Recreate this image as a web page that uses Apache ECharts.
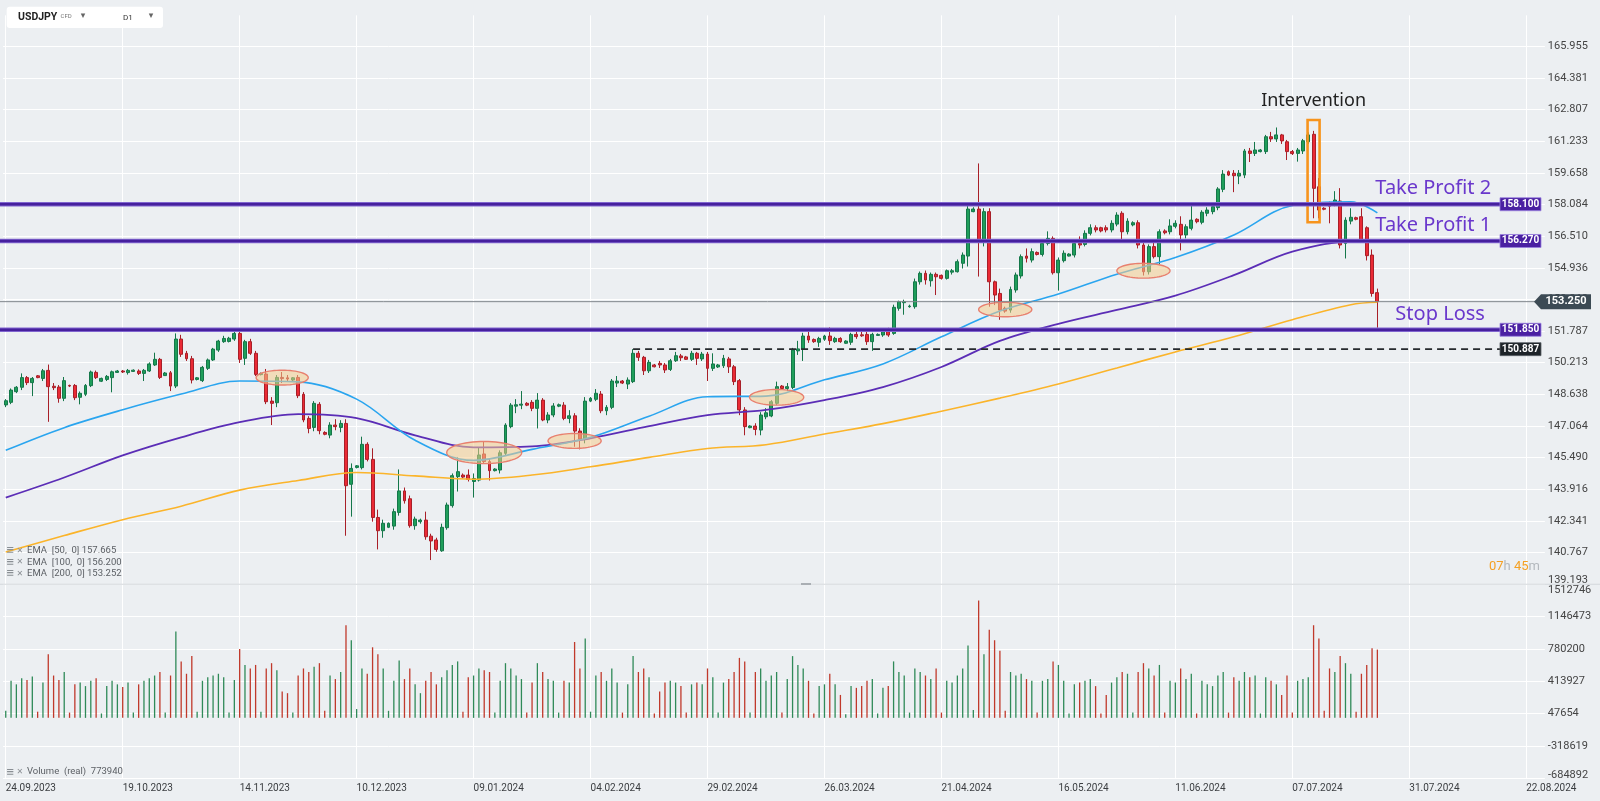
<!DOCTYPE html>
<html><head><meta charset="utf-8">
<script src="https://cdn.jsdelivr.net/npm/echarts@6/dist/echarts.min.js"></script>
<style>html,body{margin:0;padding:0;background:#eceff2;overflow:hidden}#c{width:1600px;height:801px}</style>
</head><body><div id="c"></div>
<script>
// ---------------- DATA ----------------
const dateLabels = ['24.09.2023','19.10.2023','14.11.2023','10.12.2023','09.01.2024','04.02.2024','29.02.2024','26.03.2024','21.04.2024','16.05.2024','11.06.2024','07.07.2024','31.07.2024','22.08.2024'];
const priceTicks = ['139.193','140.767','142.341','143.916','145.490','147.064','148.638','150.213','151.787','153.362','154.936','156.510','158.084','159.658','161.233','162.807','164.381','165.955'];
const volumeTicks = ['-684892','-318619','47654','413927','780200','1146473','1512746'];

// daily candles: [open, close, low, high]
const candles = [
[148.11,148.32,148.00,148.40],[148.24,148.85,148.15,148.93],[148.77,148.99,148.70,149.05],[148.99,149.47,148.85,149.68],[149.47,149.22,149.10,149.55],[149.22,149.43,148.55,149.50],
[149.56,149.47,149.44,149.60],[149.43,149.81,149.30,149.90],[149.83,149.02,147.27,150.12],[149.04,148.97,148.85,149.20],[149.00,148.44,148.22,149.10],[148.44,149.32,148.30,149.50],
[149.08,149.05,149.00,149.12],[149.08,148.47,148.35,149.15],[148.49,148.69,148.14,148.78],[148.64,149.08,148.55,149.15],[149.07,149.75,149.00,149.82],[149.73,149.47,149.40,149.82],
[149.29,149.43,149.25,149.47],[149.38,149.53,149.30,149.60],[149.47,149.76,148.74,149.82],[149.73,149.80,149.70,149.85],[149.80,149.75,149.70,149.85],[149.72,149.83,149.62,149.90],
[149.78,149.84,149.75,149.88],[149.80,149.68,149.60,149.88],[149.68,149.83,149.30,149.90],[149.80,150.15,149.75,150.23],[150.10,150.38,150.05,150.71],[150.38,149.48,149.40,150.45],
[149.57,149.70,149.55,149.75],[149.71,149.05,148.80,149.80],[149.05,151.39,148.95,151.67],[151.39,150.63,150.50,151.60],[150.68,150.41,150.30,150.80],[150.41,149.35,149.18,150.55],
[149.38,149.46,149.33,149.50],[149.32,149.98,149.25,150.05],[149.93,150.35,149.85,150.42],[150.35,150.89,150.30,150.95],[150.84,151.29,150.75,151.35],[151.26,151.42,151.20,151.55],
[151.27,151.43,151.22,151.50],[151.39,151.67,151.30,151.80],[151.67,150.38,150.20,151.90],[150.43,151.26,150.10,151.35],[151.26,150.68,150.60,151.40],[150.68,149.63,149.55,150.80],
[149.62,149.68,149.58,149.72],[149.65,148.27,148.15,149.90],[148.30,148.19,147.11,148.50],[148.22,149.48,148.00,149.60],[149.48,149.42,149.20,149.75],[149.46,149.40,149.30,149.60],
[149.35,149.46,149.30,149.50],[149.48,148.57,148.45,149.60],[148.64,147.36,147.25,148.75],[147.44,146.94,146.70,147.55],[146.99,148.19,146.80,148.30],[148.14,146.83,146.65,148.25],
[146.74,146.65,146.60,146.80],[146.61,147.11,146.45,147.25],[147.11,147.03,146.85,147.40],[146.99,147.19,146.75,147.35],[147.19,144.09,141.60,147.40],[144.16,144.95,142.55,145.20],
[145.00,145.08,144.95,145.12],[144.99,146.15,144.90,146.53],[146.15,145.40,145.30,146.25],[145.40,142.51,142.30,145.95],[142.51,141.85,140.92,142.90],[141.85,142.22,141.50,142.40],
[142.02,142.22,141.98,142.26],[142.08,142.80,141.90,142.95],[142.76,143.83,142.60,144.90],[143.83,143.34,143.20,144.00],[143.44,142.10,142.00,143.60],[142.10,142.43,141.90,142.55],
[142.30,142.38,142.20,142.45],[142.38,141.55,141.40,142.80],[141.58,141.34,140.39,141.70],[141.39,140.92,140.80,141.50],[140.85,142.02,140.80,142.20],[142.00,143.13,141.90,143.25],
[143.10,144.59,143.00,144.70],[144.54,144.79,143.80,145.50],[144.62,144.52,144.45,144.70],[144.62,144.40,144.30,144.90],[144.30,144.45,143.50,144.70],[144.37,145.62,144.30,146.00],
[145.67,145.29,145.20,146.30],[145.29,144.84,144.35,145.45],[144.84,144.92,144.80,144.96],[144.87,145.73,144.70,145.85],[145.70,147.11,145.60,147.20],[147.03,148.10,146.95,148.20],
[148.05,148.12,147.70,148.40],[148.10,148.15,147.90,148.80],[148.19,148.10,148.05,148.25],[148.24,147.94,147.80,148.35],[147.94,148.35,146.94,148.70],[148.35,147.36,147.30,148.45],
[147.36,147.61,147.20,147.75],[147.61,148.06,147.50,148.20],[148.05,148.12,148.00,148.18],[148.10,147.44,147.35,148.25],[147.44,147.57,147.20,147.85],[147.57,146.81,146.03,147.70],
[146.81,146.41,145.90,146.95],[146.41,148.30,146.20,148.50],[148.30,148.44,148.25,148.50],[148.39,148.69,148.30,148.90],[148.65,147.82,147.70,148.80],[147.82,147.99,147.60,148.10],
[147.99,149.30,147.90,149.40],[149.20,149.30,149.00,149.55],[149.30,149.20,149.15,149.35],[149.15,149.35,148.90,149.48],[149.27,150.68,149.20,150.887],[150.68,150.48,150.30,150.80],
[150.48,149.81,149.60,150.55],[149.81,150.23,149.70,150.35],[150.10,150.01,149.98,150.15],[150.18,150.10,149.95,150.30],[150.10,149.85,149.70,150.20],[149.88,150.31,149.80,150.40],
[150.31,150.56,150.25,150.75],[150.55,150.46,150.30,150.65],[150.50,150.38,150.35,150.55],[150.38,150.68,150.30,150.80],[150.68,150.43,150.10,150.75],[150.40,150.64,150.30,150.75],
[150.64,149.93,149.30,150.75],[149.93,150.15,149.80,150.68],[150.00,150.10,149.95,150.15],[150.06,150.43,149.95,150.60],[150.40,150.01,149.70,150.50],[150.01,149.27,149.10,150.10],
[149.32,147.86,147.60,149.40],[147.86,147.03,146.60,148.00],[146.98,147.06,146.95,147.10],[147.06,146.89,146.60,147.20],[146.86,147.61,146.60,147.75],[147.52,147.72,147.40,147.95],
[147.56,148.27,147.50,148.35],[148.19,149.02,148.10,149.27],[149.05,148.93,148.88,149.10],[148.93,149.02,148.80,149.20],[148.98,150.84,148.90,150.95],[150.80,150.90,150.60,151.30],
[150.89,151.54,150.30,151.70],[151.54,151.34,151.20,151.85],[151.37,151.26,151.20,151.42],[151.23,151.42,151.00,151.50],[151.38,151.54,151.30,151.60],[151.54,151.31,151.10,151.97],
[151.26,151.42,151.20,151.50],[151.42,151.26,151.20,151.48],[151.18,151.29,151.15,151.33],[151.23,151.62,151.10,151.70],[151.62,151.51,151.40,151.75],[151.60,151.55,151.50,151.80],
[151.62,151.26,151.10,151.80],[151.26,151.62,150.80,151.70],[151.57,151.62,151.55,151.67],[151.59,151.76,151.50,151.90],[151.76,151.59,151.50,151.95],[151.67,152.97,151.60,153.10],
[152.92,153.25,152.80,153.30],[153.20,153.25,152.60,153.35],[153.00,153.03,152.95,153.10],[153.00,154.24,152.90,154.40],[154.24,154.66,154.10,154.75],[154.66,154.33,154.10,154.80],
[154.29,154.61,154.00,154.70],[154.61,154.49,153.58,154.70],[154.56,154.41,154.35,154.60],[154.41,154.79,154.35,154.85],[154.72,154.79,154.60,154.88],[154.74,155.24,154.70,155.35],
[155.16,155.57,154.90,155.70],[155.52,157.86,155.00,158.05],[157.73,157.86,157.70,157.95],[157.86,156.32,154.50,160.13],[156.24,157.73,156.00,157.90],[157.73,154.24,153.00,157.90],
[154.24,153.58,153.08,154.30],[153.66,152.83,152.35,153.90],[152.92,152.78,152.70,153.00],[152.83,153.86,152.70,154.00],[153.83,154.58,153.70,154.70],[154.53,155.49,154.40,155.60],
[155.52,155.41,155.20,155.90],[155.32,155.74,155.20,155.90],[155.70,155.60,155.55,155.75],[155.60,156.15,155.50,156.25],[156.15,156.40,156.05,156.75],[156.40,154.69,154.60,156.50],
[154.69,155.32,153.80,155.45],[155.29,155.66,155.20,155.80],[155.52,155.62,155.50,155.66],[155.57,156.15,155.45,156.25],[156.15,156.07,155.90,156.50],[156.10,156.65,156.00,156.80],
[156.65,156.93,156.55,157.10],[156.93,156.82,156.70,157.05],[156.93,156.77,156.70,156.98],[156.93,156.82,156.70,157.05],[156.82,157.15,156.70,157.30],[157.11,157.56,157.00,157.70],
[157.65,156.73,156.30,157.75],[156.73,157.26,156.60,157.40],[157.07,157.18,157.00,157.25],[157.18,156.07,155.90,157.30],[156.07,154.74,154.55,156.20],[154.74,155.99,154.60,156.10],
[155.99,155.49,155.40,156.20],[155.49,156.73,155.10,156.85],[156.77,156.68,156.60,156.85],[156.73,157.02,156.60,157.35],[157.00,157.15,156.90,157.30],[157.10,156.57,155.80,157.50],
[156.57,156.98,156.40,157.10],[156.90,157.31,156.80,158.20],[157.35,157.23,157.15,157.40],[157.20,157.70,157.10,157.80],[157.65,157.81,157.50,157.95],[157.73,157.98,157.60,158.10],
[157.93,158.86,157.80,158.95],[158.84,159.60,158.70,159.80],[159.72,159.55,159.50,159.78],[159.64,159.52,158.70,159.80],[159.50,159.64,159.10,159.80],[159.55,160.75,159.40,160.85],
[160.75,160.63,160.20,160.90],[160.63,160.80,160.50,161.20],[160.72,160.80,160.68,160.85],[160.72,161.46,160.60,161.55],[161.46,161.35,161.20,161.70],[161.35,161.55,161.20,161.92],
[161.55,161.25,161.10,161.60],[161.21,160.72,160.30,161.30],[160.72,160.62,160.55,160.80],[160.63,160.80,160.22,160.90],[160.75,161.26,160.60,161.35],[161.21,161.55,161.10,161.68],
[161.58,158.89,157.40,161.75],[158.97,157.81,157.40,159.40],[157.90,157.85,157.80,157.95],[158.10,158.00,157.15,158.23],[158.14,158.31,158.00,158.75],[158.26,156.07,155.90,158.90],
[156.15,157.31,155.40,157.45],[157.26,157.45,157.10,157.90],[157.43,157.35,157.30,157.48],[157.48,156.32,156.20,157.90],[156.93,155.54,155.30,157.00],[155.57,153.66,153.50,155.85],
[153.70,153.25,151.95,153.90]
];

// daily volume (real)
const volumes = [
80000,420000,380000,450000,430000,470000, 70000,400000,720000,480000,430000,520000, 60000,380000,400000,360000,420000,450000,
50000,360000,420000,380000,350000,400000, 60000,380000,420000,450000,480000,520000, 60000,480000,980000,640000,500000,700000,
70000,420000,460000,480000,500000,460000, 60000,430000,780000,600000,560000,600000, 70000,560000,620000,540000,300000,280000,
60000,480000,560000,520000,580000,620000, 80000,480000,440000,520000,1050000,880000, 100000,560000,500000,800000,720000,560000,
80000,420000,650000,440000,560000,380000, 280000,420000,520000,380000, 460000,540000,600000,640000,
70000,460000,480000,560000,540000,520000, 60000,420000,620000,560000,480000,440000, 60000,400000,620000,520000,440000,420000,
60000,420000,400000,860000,560000,900000, 70000,480000,520000,420000,560000,400000, 60000,380000,700000,520000,560000,460000,
50000,300000,400000,420000,400000,360000, 60000,380000,400000,380000,560000,460000, 60000,400000,440000,520000,680000,640000,
60000,520000,560000,420000,480000,520000, 60000,440000,700000,600000,560000,420000, 50000,360000,380000,500000,380000,260000,
40000,360000,340000,360000,420000,440000, 50000,340000,360000,640000,520000,480000, 60000,560000,520000,480000,440000,560000,
60000,420000,400000,480000,560000,820000, 90000,1330000,720000,1000000,880000,760000, 80000,520000,480000,500000,440000,420000,
60000,420000,440000,640000,600000,420000, 50000,380000,400000,420000,440000,360000, 50000,260000,400000,460000,520000,500000,
60000,520000,620000,560000,480000,600000, 60000,420000,400000,560000,440000,500000, 50000,420000,380000,360000,480000,520000,
60000,460000,420000,520000,460000,480000, 50000,460000,420000,380000,260000,480000, 60000,420000,440000,460000,1050000,900000,
80000,560000,520000,700000,620000,500000, 70000,500000,600000,790000,773940
];

// EMA readings at bar indices
const emaIndex = [0,11,22,33,44,55,66,77,88,99,110,121,132,143,154,165,176,187,198,209,220,231,242,253,258];
const ema50  = [145.85,146.98,147.87,148.65,149.30,149.26,148.40,146.35,145.35,145.90,146.50,147.55,148.52,148.55,149.36,150.15,151.50,152.78,153.63,154.62,155.45,156.57,158.04,158.22,157.67];
const ema100 = [143.50,144.50,145.60,146.50,147.25,147.65,147.45,146.60,146.00,146.05,146.45,147.05,147.60,147.86,148.35,149.00,150.00,151.30,152.15,152.84,153.55,154.57,155.74,156.24,156.22];
const ema200 = [140.79,141.61,142.40,143.07,143.87,144.35,144.75,144.58,144.41,144.62,145.03,145.50,145.94,146.13,146.66,147.18,147.80,148.45,149.15,149.95,150.75,151.50,152.35,153.10,153.22];

// levels and annotations
const takeProfit2 = 158.100, takeProfit1 = 156.270, stopLoss = 151.850;
const lastPrice = 153.250, resistance = 150.887, resistanceFromBar = 118;
const intervention = {bar: 246, high: 162.29, low: 157.20, widthBars: 2.26, labelPrice: 163.24};
// highlighted zones: [bar, price, half-width in bars, half-height in price]
const zones = [[52,149.47,4.9,0.37],[90,145.74,7.05,0.55],[107,146.32,5.0,0.37],[145,148.49,5.1,0.39],[188,152.86,5.0,0.36],[214,154.79,5.0,0.37]];
const legendValues = {ema50:'157.665', ema100:'156.200', ema200:'153.252', volume:'773940'};
const countdown = ['07','45'];
const SLOT_COUNT = 290;

// ---------------- CHART ----------------
const slots = Array.from({length: SLOT_COUNT}, (_, i) => String(i));
const bull = '#1f9e5a', bear = '#ea2a35';
const volData = volumes.map((v, i) => ({value: v, itemStyle: {color: candles[i][1] >= candles[i][0] ? '#2f8a58' : '#c0392b'}}));
const gridMarks = dateLabels.map((_, k) => ({xAxis: String(k * 22)}));
const FONT = 'Roboto';
const GL = 3.08, GR = 55.16;
const PRICE_STEP = 1.574235, PRICE_MIN = 139.193, PRICE_TOP = 167.5;
// price split lines: every tick visible, the pane's top edge hidden
const priceSplitColors = priceTicks.map(() => '#ffffff').concat(['rgba(0,0,0,0)', 'rgba(0,0,0,0)']);

const chart = echarts.init(document.getElementById('c'), null, {renderer: 'canvas', width: 1600, height: 801});
// grid 0 pixel frame: 165.955 sits at y=46.4 and 139.193 at y=584.1
const pxPerYen = (584.1 - 46.4) / (165.955 - PRICE_MIN);
const priceTopPx = 584.1 - (PRICE_TOP - PRICE_MIN) * pxPerYen;
const option = {
  animation: false,
  backgroundColor: '#eceff2',
  grid: [
    {left: GL, right: GR, top: priceTopPx, bottom: 801 - 584.1, containLabel: false, outerBoundsMode: 'none'},
    {left: GL, right: GR, top: 584.4, bottom: 22.7, containLabel: false, outerBoundsMode: 'none'}
  ],
  xAxis: [
    {type: 'category', gridIndex: 0, data: slots, boundaryGap: true, axisLine: {show: false}, axisTick: {show: false}, axisLabel: {show: false}, splitLine: {show: false}},
    {type: 'category', gridIndex: 1, data: slots, boundaryGap: true, axisLine: {show: false}, axisTick: {show: false},
      axisLabel: {interval: (i) => i % 22 === 0 && i / 22 < dateLabels.length, formatter: (v, i) => dateLabels[i / 22] || '',
        align: 'left', margin: 5, fontSize: 10, color: '#3a3d40', fontFamily: FONT}, splitLine: {show: false}}
  ],
  yAxis: [
    {type: 'value', gridIndex: 0, position: 'right', min: PRICE_MIN, max: PRICE_TOP, interval: PRICE_STEP,
      axisLine: {show: false}, axisTick: {show: false}, splitLine: {showMaxLine: false, lineStyle: {color: priceSplitColors, width: 1}},
      axisLabel: {margin: 3, fontSize: 11, color: '#444', fontFamily: FONT, showMaxLabel: false,
        formatter: v => { const t = priceTicks.find(s => Math.abs(+s - v) < 0.01); return (t && t !== priceTicks[0]) ? t : ''; }}},
    {type: 'value', gridIndex: 1, position: 'right', min: -684892, max: 1512746, interval: 366273,
      axisLine: {show: false}, axisTick: {show: false}, splitLine: {lineStyle: {color: '#ffffff', width: 1}},
      axisLabel: {margin: 3, fontSize: 11, color: '#444', fontFamily: FONT,
        formatter: v => { const t = volumeTicks.find(s => Math.abs(+s - v) < 5); return (t && t !== volumeTicks[0] && t !== volumeTicks[6]) ? t : ''; }}}
  ],
  series: [
    {type: 'candlestick', xAxisIndex: 0, yAxisIndex: 0, data: candles, barWidth: 3.4, z: 3,
      itemStyle: {color: bull, color0: bear, borderColor: '#15774a', borderColor0: '#a81f28', borderWidth: 1}},
    {type: 'line', name: 'EMA200', xAxisIndex: 0, yAxisIndex: 0, data: emaIndex.map((x, k) => [String(x), ema200[k]]), showSymbol: false, smooth: 0.35, z: 4,
      lineStyle: {color: '#fbb42a', width: 1.6},
      markLine: {silent: true, symbol: 'none', z: 1, label: {show: false}, lineStyle: {color: '#ffffff', width: 1, type: 'solid'}, data: gridMarks}},
    {type: 'line', name: 'EMA100', xAxisIndex: 0, yAxisIndex: 0, data: emaIndex.map((x, k) => [String(x), ema100[k]]), showSymbol: false, smooth: 0.35, z: 4,
      lineStyle: {color: '#5b2db6', width: 1.8}},
    {type: 'line', name: 'EMA50', xAxisIndex: 0, yAxisIndex: 0, data: emaIndex.map((x, k) => [String(x), ema50[k]]), showSymbol: false, smooth: 0.35, z: 4,
      lineStyle: {color: '#2aa5ef', width: 1.6}},
    {type: 'custom', xAxisIndex: 0, yAxisIndex: 0, data: zones, z: 5, silent: true,
      renderItem: (params, api) => {
        const c = api.coord([api.value(0), api.value(1)]);
        const band = api.size([1, 0])[0];
        const rx = api.value(2) * band;
        const ry = api.size([0, api.value(3) * 2])[1] / 2;
        const pts = [];
        for (let k = 0; k < 60; k++) { const a = k / 60 * Math.PI * 2; pts.push([c[0] + rx * Math.cos(a), c[1] + ry * Math.sin(a)]); }
        return {type: 'polygon', shape: {points: pts}, style: {fill: 'rgba(246,204,140,0.55)', stroke: '#e8806f', lineWidth: 1.4}};
      }},
    {type: 'custom', xAxisIndex: 0, yAxisIndex: 0, data: [[intervention.bar, intervention.high, intervention.low, intervention.widthBars]], z: 6, silent: true,
      renderItem: (params, api) => {
        const top = api.coord([api.value(0), api.value(1)]);
        const bot = api.coord([api.value(0), api.value(2)]);
        const w = api.value(3) * api.size([1, 0])[0];
        return {type: 'rect', shape: {x: top[0] - w / 2, y: top[1], width: w, height: bot[1] - top[1]}, style: {fill: 'none', stroke: '#f7941d', lineWidth: 2.6}};
      }},
    {type: 'bar', xAxisIndex: 1, yAxisIndex: 1, data: volData, barWidth: 1.3, z: 3,
      markLine: {silent: true, symbol: 'none', z: 1, label: {show: false}, lineStyle: {color: '#ffffff', width: 1, type: 'solid'}, data: gridMarks}}
  ]
};
chart.setOption(option);

// ---------------- OVERLAYS (positioned through the chart scales) ----------------
const px = (i, p) => chart.convertToPixel({xAxisIndex: 0, yAxisIndex: 0}, [String(i), p]);
const yOf = p => px(0, p)[1];
const xOf = i => px(i, 150)[0];
const TAG_X = 1500, TAG_W = 41, lastBar = candles.length - 1;
const g = [];
g.push({type: 'rect', shape: {x: 0, y: 583.7, width: 1600, height: 1}, style: {fill: '#d3d7db'}, z: 50});
g.push({type: 'rect', shape: {x: 801, y: 583, width: 10, height: 2}, style: {fill: '#a9aeb3'}, z: 51});

// last price line and tag
const yl = yOf(lastPrice);
g.push({type: 'line', shape: {x1: 0, y1: yl, x2: 1535, y2: yl}, style: {stroke: '#80878d', lineWidth: 1}, z: 55});
g.push({type: 'polygon', shape: {points: [[1534, yl], [1541, yl - 7.5], [1591, yl - 7.5], [1591, yl + 7.5], [1541, yl + 7.5]]}, style: {fill: '#3c4a54'}, z: 70});
g.push({type: 'text', x: 1566, y: yl, style: {text: lastPrice.toFixed(3), fill: '#ffffff', font: 'bold 11px Roboto', align: 'center', verticalAlign: 'middle'}, z: 71});

// resistance dashed line
const yr = yOf(resistance);
g.push({type: 'line', shape: {x1: xOf(resistanceFromBar), y1: yr, x2: TAG_X, y2: yr}, style: {stroke: '#262a2e', lineWidth: 1.8, lineDash: [7, 5]}, z: 56});
g.push({type: 'rect', shape: {x: TAG_X, y: yr - 6.5, width: TAG_W, height: 13}, style: {fill: '#1d2328', stroke: '#5d6368', lineWidth: 0.8}, z: 70});
g.push({type: 'text', x: TAG_X + TAG_W / 2, y: yr, style: {text: resistance.toFixed(3), fill: '#ffffff', font: 'bold 10px Roboto', align: 'center', verticalAlign: 'middle'}, z: 71});

// take profit / stop loss
[takeProfit2, takeProfit1, stopLoss].forEach(p => {
  const y = yOf(p);
  g.push({type: 'line', shape: {x1: 0, y1: y, x2: TAG_X, y2: y}, style: {stroke: '#8065cf', lineWidth: 4.6}, z: 57});
  g.push({type: 'line', shape: {x1: 0, y1: y, x2: TAG_X, y2: y}, style: {stroke: '#46209e', lineWidth: 2.6}, z: 58});
  g.push({type: 'rect', shape: {x: TAG_X, y: y - 6.5, width: TAG_W, height: 13}, style: {fill: '#4a20a2', stroke: '#9a82e0', lineWidth: 0.8}, z: 70});
  g.push({type: 'text', x: TAG_X + TAG_W / 2, y: y, style: {text: p.toFixed(3), fill: '#ffffff', font: 'bold 10px Roboto', align: 'center', verticalAlign: 'middle'}, z: 71});
});
const annoFont = '20px "Noto Sans"';
g.push({type: 'text', x: xOf(lastBar) - 2, y: yOf(takeProfit2) - 15.5, style: {text: 'Take Profit 2', fill: '#6a38cc', font: annoFont, verticalAlign: 'middle'}, z: 72});
g.push({type: 'text', x: xOf(lastBar) - 2, y: yOf(takeProfit1) - 15.5, style: {text: 'Take Profit 1', fill: '#6a38cc', font: annoFont, verticalAlign: 'middle'}, z: 72});
g.push({type: 'text', x: xOf(lastBar) + 18, y: yOf(stopLoss) - 15.5, style: {text: 'Stop Loss', fill: '#6a38cc', font: annoFont, verticalAlign: 'middle'}, z: 72});
g.push({type: 'text', x: xOf(intervention.bar), y: yOf(intervention.labelPrice), style: {text: 'Intervention', fill: '#222222', font: '18px "Noto Sans"', align: 'center', verticalAlign: 'middle'}, z: 72});

// axis edge labels
g.push({type: 'text', x: 1548, y: 580, style: {text: priceTicks[0], fill: '#444', font: '11px Roboto', verticalAlign: 'middle'}, z: 60});
g.push({type: 'text', x: 1548, y: 590, style: {text: volumeTicks[6], fill: '#444', font: '11px Roboto', verticalAlign: 'middle'}, z: 60});
g.push({type: 'text', x: 1548, y: 775, style: {text: volumeTicks[0], fill: '#444', font: '11px Roboto', verticalAlign: 'middle'}, z: 60});

// countdown
g.push({type: 'text', x: 1540, y: 567, style: {text: '{a|' + countdown[0] + '}{b|h} {a|' + countdown[1] + '}{b|m}', align: 'right', verticalAlign: 'middle',
  rich: {a: {fill: '#f5a022', font: '13px Roboto'}, b: {fill: '#b3b8bd', font: '13px Roboto'}}}, z: 60});

// indicator legends
[['EMA  [50,  0] ' + legendValues.ema50, 550.7], ['EMA  [100,  0] ' + legendValues.ema100, 562.3], ['EMA  [200,  0] ' + legendValues.ema200, 573.9], ['Volume  (real)  ' + legendValues.volume, 772]].forEach(([t, y]) => {
  g.push({type: 'text', x: 6, y: y, style: {text: '\u2261', fill: '#8a8f94', font: 'bold 10px "DejaVu Sans"', verticalAlign: 'middle'}, z: 60});
  g.push({type: 'text', x: 16.5, y: y, style: {text: '\u2715', fill: '#8a8f94', font: 'bold 8px "DejaVu Sans"', verticalAlign: 'middle'}, z: 60});
  g.push({type: 'text', x: 27, y: y, style: {text: t, fill: '#5b5f64', font: '9.5px Roboto', verticalAlign: 'middle'}, z: 60});
});

// header box
g.push({type: 'rect', shape: {x: 6.7, y: 6.7, width: 156.3, height: 21.3, r: 3}, style: {fill: '#ffffff'}, z: 80});
g.push({type: 'text', x: 18, y: 17.3, style: {text: 'USDJPY', fill: '#222', font: 'bold 10.5px Roboto', verticalAlign: 'middle'}, z: 81});
g.push({type: 'text', x: 60.5, y: 16.8, style: {text: 'CFD', fill: '#777', font: '6px Roboto', verticalAlign: 'middle'}, z: 81});
g.push({type: 'text', x: 83, y: 15.5, style: {text: '\u25BE', fill: '#666', font: '9px "DejaVu Sans"', align: 'center', verticalAlign: 'middle'}, z: 81});
g.push({type: 'text', x: 123, y: 17.5, style: {text: 'D1', fill: '#333', font: '8px Roboto', verticalAlign: 'middle'}, z: 81});
g.push({type: 'text', x: 151, y: 15.5, style: {text: '\u25BE', fill: '#666', font: '9px "DejaVu Sans"', align: 'center', verticalAlign: 'middle'}, z: 81});

chart.setOption({graphic: {elements: g}});
</script>
</body></html>
